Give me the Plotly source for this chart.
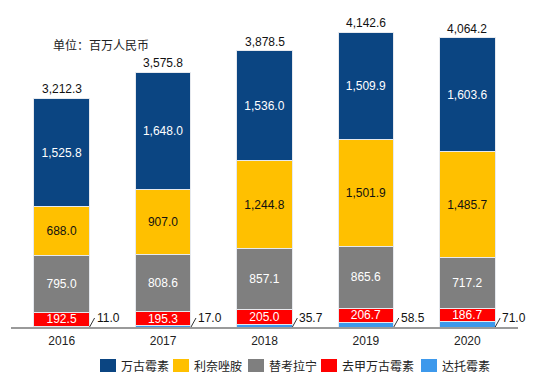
import plotly.graph_objects as go

years = ["2016", "2017", "2018", "2019", "2020"]
vanco = [1525.8, 1648.0, 1536.0, 1509.9, 1603.6]
linezolid = [688.0, 907.0, 1244.8, 1501.9, 1485.7]
teico = [795.0, 808.6, 857.1, 865.6, 717.2]
norvanco = [192.5, 195.3, 205.0, 206.7, 186.7]
dapto = [11.0, 17.0, 35.7, 58.5, 71.0]
totals = [3212.3, 3575.8, 3878.5, 4142.6, 4064.2]
legend_names = ["万古霉素", "利奈唑胺", "替考拉宁", "去甲万古霉素", "达托霉素"]

FONT = "Liberation Sans, Arial, Noto Sans CJK SC, sans-serif"
CJK = "Noto Sans CJK SC, sans-serif"
BARW = 0.55
OFF = 8  # page body margin
W, H = 542 - 2 * OFF, 383 - 2 * OFF
# plot area in screen pixels: x 11..518, y 20..327
ML, MT = 11 - OFF, 20 - OFF
MR = W - (518 - OFF)
MB = H - (327 - OFF)
PW, PH = W - ML - MR, H - MT - MB


def px_x(sx):
    return (sx - OFF - ML) / PW


def px_y(sy):
    return (MT + PH - (sy - OFF)) / PH


colors = {"万古霉素": "#0B4582", "利奈唑胺": "#FFC000", "替考拉宁": "#7F7F7F",
          "去甲万古霉素": "#FF0000", "达托霉素": "#3D99EC"}

fig = go.Figure()
series = [
    ("达托霉素", dapto, None),
    ("去甲万古霉素", norvanco, "white"),
    ("替考拉宁", teico, "white"),
    ("利奈唑胺", linezolid, "#111111"),
    ("万古霉素", vanco, "white"),
]
for name, vals, tcolor in series:
    if tcolor:
        kw = dict(text=[f"{v:,.1f}" for v in vals], textposition="inside",
                  insidetextanchor="middle",
                  textfont=dict(color=tcolor, size=12, family=FONT))
    else:
        kw = dict(textposition="none")
    fig.add_trace(go.Bar(
        x=years, y=vals, name=name, showlegend=False,
        marker=dict(color=colors[name], line=dict(color="#E6E9EE", width=1)),
        width=BARW, hoverinfo="skip", **kw))

ann = []
for i, t in enumerate(totals):
    ann.append(dict(x=i, y=t, text=f"{t:,.1f}", showarrow=False, yanchor="bottom",
                    yshift=0, font=dict(size=12, color="#111111", family=FONT)))
for i, d in enumerate(dapto):
    ann.append(dict(x=i + BARW / 2, y=0, text=f"{d:,.1f}", showarrow=True,
                    arrowhead=0, arrowwidth=1, arrowcolor="#333333",
                    ax=5, ay=-9, xanchor="left", yanchor="middle",
                    font=dict(size=12, color="#111111", family=FONT)))
ann.append(dict(xref="paper", yref="paper", x=px_x(51), y=px_y(44),
                text="单位：百万人民币", showarrow=False, xanchor="left", yanchor="middle",
                font=dict(size=12, color="#222222", family=CJK)))

# custom legend (swatch + label)
shapes = []
leg_x_px = [100, 173, 248, 321, 421]
sw_top, sw_bot, leg_mid = 359, 372, 365.5
for name, sx in zip(legend_names, leg_x_px):
    shapes.append(dict(type="rect", xref="paper", yref="paper",
                       x0=px_x(sx), x1=px_x(sx + 16),
                       y0=px_y(sw_bot), y1=px_y(sw_top),
                       fillcolor=colors[name], line=dict(width=0)))
    ann.append(dict(xref="paper", yref="paper", x=px_x(sx + 19),
                    y=px_y(leg_mid), text=name, showarrow=False,
                    xanchor="left", yanchor="middle",
                    font=dict(size=12, color="#222222", family=CJK)))

fig.update_layout(
    width=W, height=H,
    margin=dict(l=ML, r=MR, t=MT, b=MB, autoexpand=False),
    barmode="stack",
    plot_bgcolor="white", paper_bgcolor="white",
    font=dict(family=FONT, size=12, color="#222222"),
    uniformtext=dict(mode="show", minsize=12),
    showlegend=False,
    annotations=ann,
    shapes=shapes,
    xaxis=dict(type="category", range=[-0.5, 4.5], showline=True, linecolor="#9A9A9A",
               linewidth=1.5, ticks="", showgrid=False, ticklabelstandoff=2,
               tickfont=dict(size=12, color="#222222", family=FONT)),
    yaxis=dict(range=[0, 4312], visible=False, showgrid=False),
)
fig.write_html("out.html")
